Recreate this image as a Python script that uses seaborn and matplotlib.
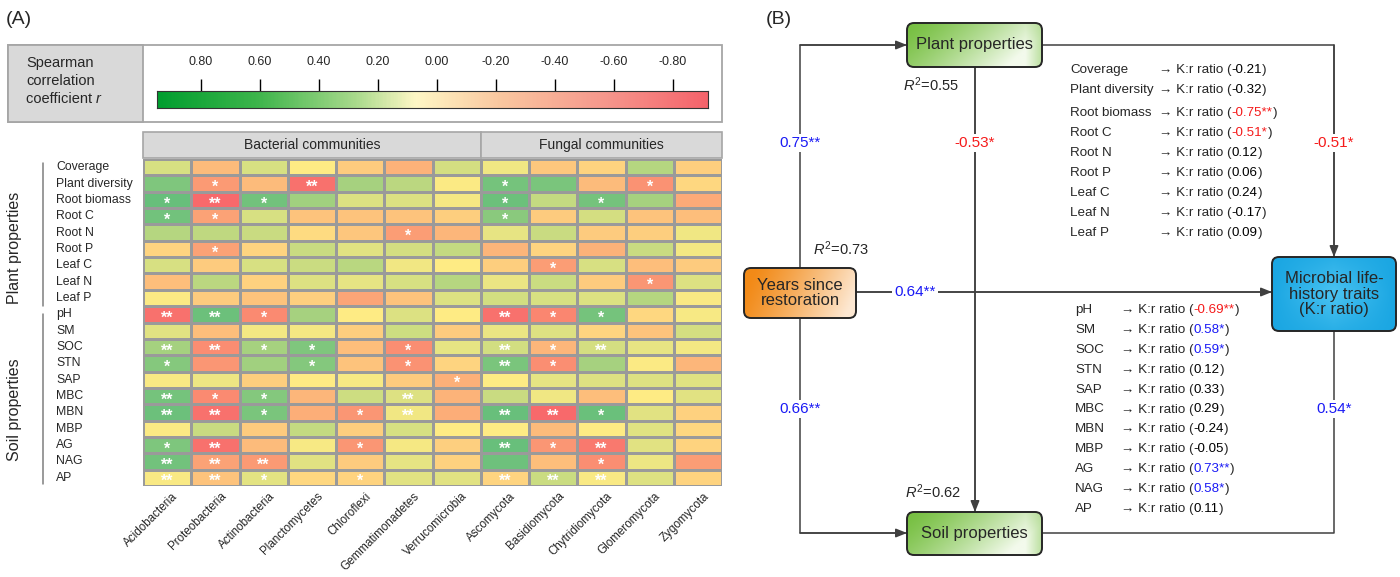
import numpy as np
import pandas as pd
import matplotlib
matplotlib.use("Agg")
import matplotlib.pyplot as plt
import seaborn as sns
from matplotlib.colors import LinearSegmentedColormap, to_rgb
from matplotlib.patches import FancyBboxPatch, Rectangle
from matplotlib.transforms import ScaledTranslation
from matplotlib import font_manager

# ---------------- data ----------------
rows = ["Coverage", "Plant diversity", "Root biomass", "Root C", "Root N", "Root P",
        "Leaf C", "Leaf N", "Leaf P", "pH", "SM", "SOC", "STN", "SAP", "MBC", "MBN",
        "MBP", "AG", "NAG", "AP"]
cols = ["Acidobacteria", "Proteobacteria", "Actinobacteria", "Planctomycetes",
        "Chloroflexi", "Gemmatimonadetes", "Verrucomicrobia", "Ascomycota",
        "Basidiomycota", "Chytridiomycota", "Glomeromycota", "Zygomycota"]
r_coverage = [0.20, -0.30, 0.20, 0.00, -0.20, -0.35, 0.22, 0.08, -0.22, -0.15, 0.38, -0.18]
r_plantdiv = [0.65, -0.50, -0.30, -0.75, 0.45, 0.35, 0.02, 0.70, 0.68, -0.30, -0.55, -0.12]
r_rootbio = [0.78, -0.80, 0.72, 0.48, 0.18, 0.18, 0.05, 0.75, 0.30, 0.70, 0.45, -0.40]
r_rootc = [0.72, -0.45, 0.20, -0.25, -0.25, -0.25, -0.18, 0.60, -0.20, 0.22, -0.25, -0.28]
r_rootn = [0.38, 0.33, 0.28, -0.10, -0.23, -0.48, -0.32, 0.12, 0.28, -0.20, -0.18, 0.08]
r_rootp = [-0.14, -0.45, -0.14, 0.28, 0.15, 0.22, 0.30, -0.33, -0.14, -0.35, 0.28, 0.06]
r_leafc = [0.20, -0.20, 0.20, 0.27, 0.36, 0.07, 0.00, -0.18, -0.48, 0.20, -0.28, -0.20]
r_leafn = [-0.28, 0.35, -0.16, 0.17, 0.13, 0.20, 0.37, 0.10, 0.27, -0.20, -0.52, 0.17]
r_leafp = [0.02, -0.20, -0.25, -0.17, -0.43, -0.25, 0.18, 0.23, 0.20, 0.18, 0.38, 0.03]
r_ph = [-0.75, 0.75, -0.60, 0.45, 0.00, 0.18, 0.00, -0.75, -0.62, 0.70, -0.12, 0.04]
r_sm = [0.15, -0.28, 0.06, 0.05, -0.18, 0.25, -0.20, 0.10, 0.17, -0.14, -0.25, 0.22]
r_soc = [0.46, -0.58, 0.45, 0.65, -0.28, -0.57, 0.13, 0.23, -0.32, 0.22, 0.12, 0.06]
r_stn = [0.62, -0.52, 0.48, 0.63, -0.25, -0.55, -0.14, 0.68, -0.57, 0.45, 0.02, -0.32]
r_sap = [0.03, 0.09, -0.18, 0.00, 0.04, -0.20, -0.36, 0.00, 0.13, 0.17, 0.17, 0.16]
r_mbc = [0.70, -0.60, 0.63, -0.32, 0.25, 0.17, -0.34, 0.28, 0.08, -0.28, 0.00, 0.15]
r_mbn = [0.75, -0.75, 0.68, -0.37, -0.52, 0.07, -0.38, 0.77, -0.80, 0.76, 0.15, -0.16]
r_mbp = [0.02, 0.28, -0.20, 0.30, -0.18, 0.20, 0.00, 0.00, -0.30, 0.00, 0.16, -0.12]
r_ag = [0.66, -0.75, -0.30, 0.04, -0.52, 0.05, -0.17, 0.77, -0.52, -0.70, 0.15, -0.15]
r_nag = [0.72, -0.45, -0.50, 0.15, -0.20, 0.13, -0.16, 0.74, -0.28, -0.57, 0.09, -0.48]
r_ap = [0.03, -0.25, 0.14, -0.12, -0.15, 0.15, 0.15, -0.14, 0.27, 0.03, 0.17, -0.15]
r_values = [r_coverage, r_plantdiv, r_rootbio, r_rootc, r_rootn, r_rootp, r_leafc,
            r_leafn, r_leafp, r_ph, r_sm, r_soc, r_stn, r_sap, r_mbc, r_mbn, r_mbp,
            r_ag, r_nag, r_ap]
e = ""
stars = [
    [e, e, e, e, e, e, e, e, e, e, e, e],
    [e, "*", e, "**", e, e, e, "*", e, e, "*", e],
    ["*", "**", "*", e, e, e, e, "*", e, "*", e, e],
    ["*", "*", e, e, e, e, e, "*", e, e, e, e],
    [e, e, e, e, e, "*", e, e, e, e, e, e],
    [e, "*", e, e, e, e, e, e, e, e, e, e],
    [e, e, e, e, e, e, e, e, "*", e, e, e],
    [e, e, e, e, e, e, e, e, e, e, "*", e],
    [e, e, e, e, e, e, e, e, e, e, e, e],
    ["**", "**", "*", e, e, e, e, "**", "*", "*", e, e],
    [e, e, e, e, e, e, e, e, e, e, e, e],
    ["**", "**", "*", "*", e, "*", e, "**", "*", "**", e, e],
    ["*", e, e, "*", e, "*", e, "**", "*", e, e, e],
    [e, e, e, e, e, e, "*", e, e, e, e, e],
    ["**", "*", "*", e, e, "**", e, e, e, e, e, e],
    ["**", "**", "*", e, "*", "**", e, "**", "**", "*", e, e],
    [e, e, e, e, e, e, e, e, e, e, e, e],
    ["*", "**", e, e, "*", e, e, "**", "*", "**", e, e],
    ["**", "**", "**", e, e, e, e, e, e, "*", e, e],
    ["**", "**", "*", e, "*", e, e, "**", "**", "**", e, e],
]
cbar_ticks = [0.8, 0.6, 0.4, 0.2, 0.0, -0.2, -0.4, -0.6, -0.8]

plant_vars = ["Coverage", "Plant diversity", "Root biomass", "Root C", "Root N",
              "Root P", "Leaf C", "Leaf N", "Leaf P"]
plant_kr = [-0.21, -0.32, -0.75, -0.51, 0.12, 0.06, 0.24, -0.17, 0.09]
plant_sig = ["", "", "**", "*", "", "", "", "", ""]
soil_vars = ["pH", "SM", "SOC", "STN", "SAP", "MBC", "MBN", "MBP", "AG", "NAG", "AP"]
soil_kr = [-0.69, 0.58, 0.59, 0.12, 0.33, 0.29, -0.24, -0.05, 0.73, 0.58, 0.11]
soil_sig = ["**", "*", "*", "", "", "", "", "", "**", "*", ""]

path_coef = [0.75, -0.53, -0.51, 0.64, 0.66, 0.54]
path_sig = ["**", "*", "*", "**", "**", "*"]
r2_values = [0.55, 0.73, 0.62]

# ---------------- style ----------------
sns.set_theme(style="white")
plt.rcParams["font.family"] = ["Liberation Sans", "DejaVu Sans"]
plt.rcParams["mathtext.fontset"] = "custom"
plt.rcParams["mathtext.rm"] = "Liberation Sans"
plt.rcParams["mathtext.it"] = "Liberation Sans:italic"

names = {f.name for f in font_manager.fontManager.ttflist}
if "Liberation Sans Narrow" in names:
    BFAM = ["Liberation Sans Narrow", "DejaVu Sans"]
    k = 1.18
else:
    BFAM = ["Liberation Sans", "DejaVu Sans"]
    k = 1.0

W, H = 1400, 577
fig = plt.figure(figsize=(14, 5.77), dpi=100)
fig.patch.set_facecolor("white")

ov = fig.add_axes([0, 0, 1, 1], zorder=0)
ov.set_xlim(0, W)
ov.set_ylim(H, 0)
ov.set_autoscale_on(False)
ov.axis("off")


def frect(x0, y0, x1, y1):
    return [x0 / W, 1 - y1 / H, (x1 - x0) / W, (y1 - y0) / H]


GRAY_EC = "#A6A6A6"
GRAY_FC = "#D9D9D9"

# ---------------- panel A ----------------
ov.text(6, 20, "(A)", fontsize=14, va="center", ha="left")

# colour-scale frame
ov.add_patch(Rectangle((8, 45), 714, 77, fc="white", ec=GRAY_EC, lw=1.3))
ov.add_patch(Rectangle((8, 45), 135, 77, fc=GRAY_FC, ec=GRAY_EC, lw=1.3))
ov.text(26, 63, "Spearman", fontsize=10.5, va="center")
ov.text(26, 81, "correlation", fontsize=10.5, va="center")
t = ov.text(26, 99, "coefficient ", fontsize=10.5, va="center")
ov.annotate("r", xy=(1, 0), xycoords=t, va="bottom", ha="left", fontsize=10.5, style="italic")

cb_cmap = LinearSegmentedColormap.from_list(
    "cb", [(0.0, "#009E2F"), (0.18, "#3DB54B"), (0.36, "#A9DA8C"), (0.47, "#FFF7C6"),
           (0.62, "#FAC8A0"), (0.82, "#F6968C"), (1.0, "#F4636B")])
v_left, v_right = 0.949, -0.919
cax = fig.add_axes(frect(157, 91, 708, 108), zorder=2)
grad = np.linspace(0, 1, 400)[None, :]
cax.imshow(grad, extent=(v_left, v_right, 0, 1), aspect="auto", cmap=cb_cmap)
cax.set_xlim(v_left, v_right)
cax.set_ylim(0, 1)
cax.set_yticks([])
cax.xaxis.tick_top()
cax.set_xticks(cbar_ticks)
cax.set_xticklabels([f"{v:.2f}" for v in cbar_ticks])
cax.tick_params(axis="x", top=True, bottom=False, length=8.6, width=1.0, pad=8,
                labelsize=9, color="black", direction="out")
for s in cax.spines.values():
    s.set_color("#333333")
    s.set_linewidth(0.8)

# group headers
ov.add_patch(Rectangle((143, 132), 338, 26, fc=GRAY_FC, ec=GRAY_EC, lw=1.2))
ov.add_patch(Rectangle((481, 132), 241, 26, fc=GRAY_FC, ec=GRAY_EC, lw=1.2))
ov.text(312, 145, "Bacterial communities", fontsize=10, ha="center", va="center")
ov.text(601.5, 145, "Fungal communities", fontsize=10, ha="center", va="center")

# heatmap
hax = fig.add_axes(frect(143, 159, 722, 486), zorder=2)
df = pd.DataFrame(np.array(r_values), index=rows, columns=cols)
hm_cmap = LinearSegmentedColormap.from_list("excel", ["#F8696B", "#FFEB84", "#63BE7B"])
sns.heatmap(df, ax=hax, cmap=hm_cmap, vmin=-0.8, vmax=0.8, cbar=False,
            annot=np.array(stars), fmt="",
            annot_kws=dict(color="white", fontsize=11.5, fontweight="bold"),
            linewidths=0.9, linecolor="#9A9A9A")
for txt in hax.texts:
    x, y = txt.get_position()
    txt.set_position((x, y + 0.24))
hax.set_xlabel("")
hax.set_ylabel("")
hax.tick_params(axis="y", length=0, pad=62.5, labelsize=8.8)
hax.set_yticklabels(rows, rotation=0)
for lbl in hax.get_yticklabels():
    lbl.set_ha("left")
hax.tick_params(axis="x", length=0, pad=3, labelsize=8.4)
hax.set_xticklabels(cols, rotation=45, ha="right", rotation_mode="anchor")
off = ScaledTranslation(5 / 100, 0, fig.dpi_scale_trans)
for lbl in hax.get_xticklabels():
    lbl.set_transform(lbl.get_transform() + off)

# row group labels
ov.plot([43, 43], [163, 306], color="#7F7F7F", lw=1.1)
ov.plot([43, 43], [314, 484], color="#7F7F7F", lw=1.1)
ov.text(15, 248, "Plant properties", rotation=90, fontsize=11.5, ha="center", va="center")
ov.text(15, 410, "Soil properties", rotation=90, fontsize=11.5, ha="center", va="center")

# ---------------- panel B ----------------
ov.text(766, 20, "(B)", fontsize=14, va="center", ha="left")
LC = "#404040"
BLUE = "#1A1AF5"
RED = "#F51A1A"


def gbox(x0, y0, x1, y1, c0, c1, text, kind):
    patch = FancyBboxPatch((x0, y0), x1 - x0, y1 - y0,
                           boxstyle="round,pad=0,rounding_size=7",
                           fc="none", ec="#262626", lw=1.4, zorder=6)
    ov.add_patch(patch)
    nx, ny = 240, 80
    u = np.linspace(0, 1, nx)[None, :]
    v = np.linspace(0, 1, ny)[:, None]
    if kind == "green":
        s = np.clip(0.95 * u + 0.35 * v - 0.05, 0, 1) ** 1.3
        s = s * (1 - 0.45 * np.clip((u - 0.88) / 0.12, 0, 1))
    elif kind == "orange":
        s = np.clip(1.0 * u + 0.2 * v - 0.1, 0, 1) ** 1.2
    else:
        s = np.clip(1 - np.abs(2 * u - 1), 0, 1) * np.clip(1 - np.abs(2 * v - 1) * 0.7, 0, 1)
    a = np.array(to_rgb(c0))
    b = np.array(to_rgb(c1))
    img = a[None, None, :] * (1 - s[..., None]) + b[None, None, :] * s[..., None]
    im = ov.imshow(img, extent=(x0, x1, y1, y0), aspect="auto", zorder=5,
                   interpolation="bilinear")
    im.set_clip_path(patch)
    ov.text((x0 + x1) / 2, (y0 + y1) / 2, text, ha="center", va="center",
            fontsize=12 * k, family=BFAM, zorder=7, linespacing=1.05)


# boxes: (x0, y0, x1, y1)
B_PLANT = (907, 23, 1042, 67)
B_YEARS = (744, 268, 856, 318)
B_MICRO = (1272, 257, 1396, 331)
B_SOIL = (907, 512, 1042, 555)

gbox(*B_PLANT, "#78C043", "#F3FAEC", "Plant properties", "green")
gbox(*B_SOIL, "#78C043", "#F3FAEC", "Soil properties", "green")
gbox(*B_YEARS, "#F28A17", "#FDE8D2", "Years since\nrestoration", "orange")
gbox(*B_MICRO, "#1AA6E2", "#4CC4F2", "Microbial life-\nhistory traits\n(K:r ratio)", "blue")


def path(pts, arrow=True):
    xs = [p[0] for p in pts]
    ys = [p[1] for p in pts]
    ov.plot(xs, ys, color=LC, lw=1.1, zorder=3, solid_capstyle="butt")
    if arrow:
        ov.annotate("", xy=pts[-1], xytext=pts[-2],
                    arrowprops=dict(arrowstyle="-|>,head_length=0.55,head_width=0.22",
                                    color=LC, lw=1.1, shrinkA=0, shrinkB=0), zorder=4)


xm = (B_MICRO[0] + B_MICRO[2]) / 2
yy = (B_YEARS[1] + B_YEARS[3]) / 2 - 1
path([(800, B_YEARS[1]), (800, 45), (B_PLANT[0], 45)])
path([(975, B_PLANT[3]), (975, B_SOIL[1])])
path([(B_PLANT[2], 45), (xm, 45), (xm, B_MICRO[1])])
path([(B_YEARS[2], yy), (B_MICRO[0], yy)])
path([(800, B_YEARS[3]), (800, 533), (B_SOIL[0], 533)])
path([(B_SOIL[2], 533), (xm, 533), (xm, B_MICRO[3])], arrow=False)

label_pos = [(800, 143), (975, 143), (xm, 143), (915, yy), (800, 409), (xm, 409)]
for (px, py), c, sg in zip(label_pos, path_coef, path_sig):
    col = BLUE if c > 0 else RED
    ov.text(px, py, f"{c:.2f}{sg}", color=col, fontsize=11 * k, family=BFAM,
            ha="center", va="center", zorder=4,
            bbox=dict(fc="white", ec="none", pad=1.5))

r2_pos = [(903, 85), (813, 249), (905, 492)]
for (px, py), r2 in zip(r2_pos, r2_values):
    ov.text(px, py, rf"$R^2$={r2:.2f}", fontsize=10.5 * k, family=BFAM,
            ha="left", va="center", zorder=4)


def kr_line(xn, xa, y, name, val, sig):
    fs = 9.6 * k
    ov.text(xn, y, name, fontsize=fs, family=BFAM, ha="left", va="baseline")
    t1 = ov.text(xa, y, "\u2192 K:r ratio (", fontsize=fs, family=BFAM,
                 ha="left", va="baseline")
    col = "black"
    if sig:
        col = BLUE if val > 0 else RED
    t2 = ov.annotate(f"{val:.2f}{sig}", xy=(1, 0), xycoords=t1, fontsize=fs,
                     family=BFAM, ha="left", va="bottom", color=col)
    ov.annotate(")", xy=(1, 0), xycoords=t2, fontsize=fs, family=BFAM,
                ha="left", va="bottom")


plant_y = [73, 93, 116, 136, 156, 176, 196, 216, 236]
for yv, nm, vl, sg in zip(plant_y, plant_vars, plant_kr, plant_sig):
    kr_line(1070, 1159, yv, nm, vl, sg)
for i, (nm, vl, sg) in enumerate(zip(soil_vars, soil_kr, soil_sig)):
    kr_line(1075, 1121, 313 + i * 19.9, nm, vl, sg)

fig.savefig("out.png", dpi=100, facecolor="white")
